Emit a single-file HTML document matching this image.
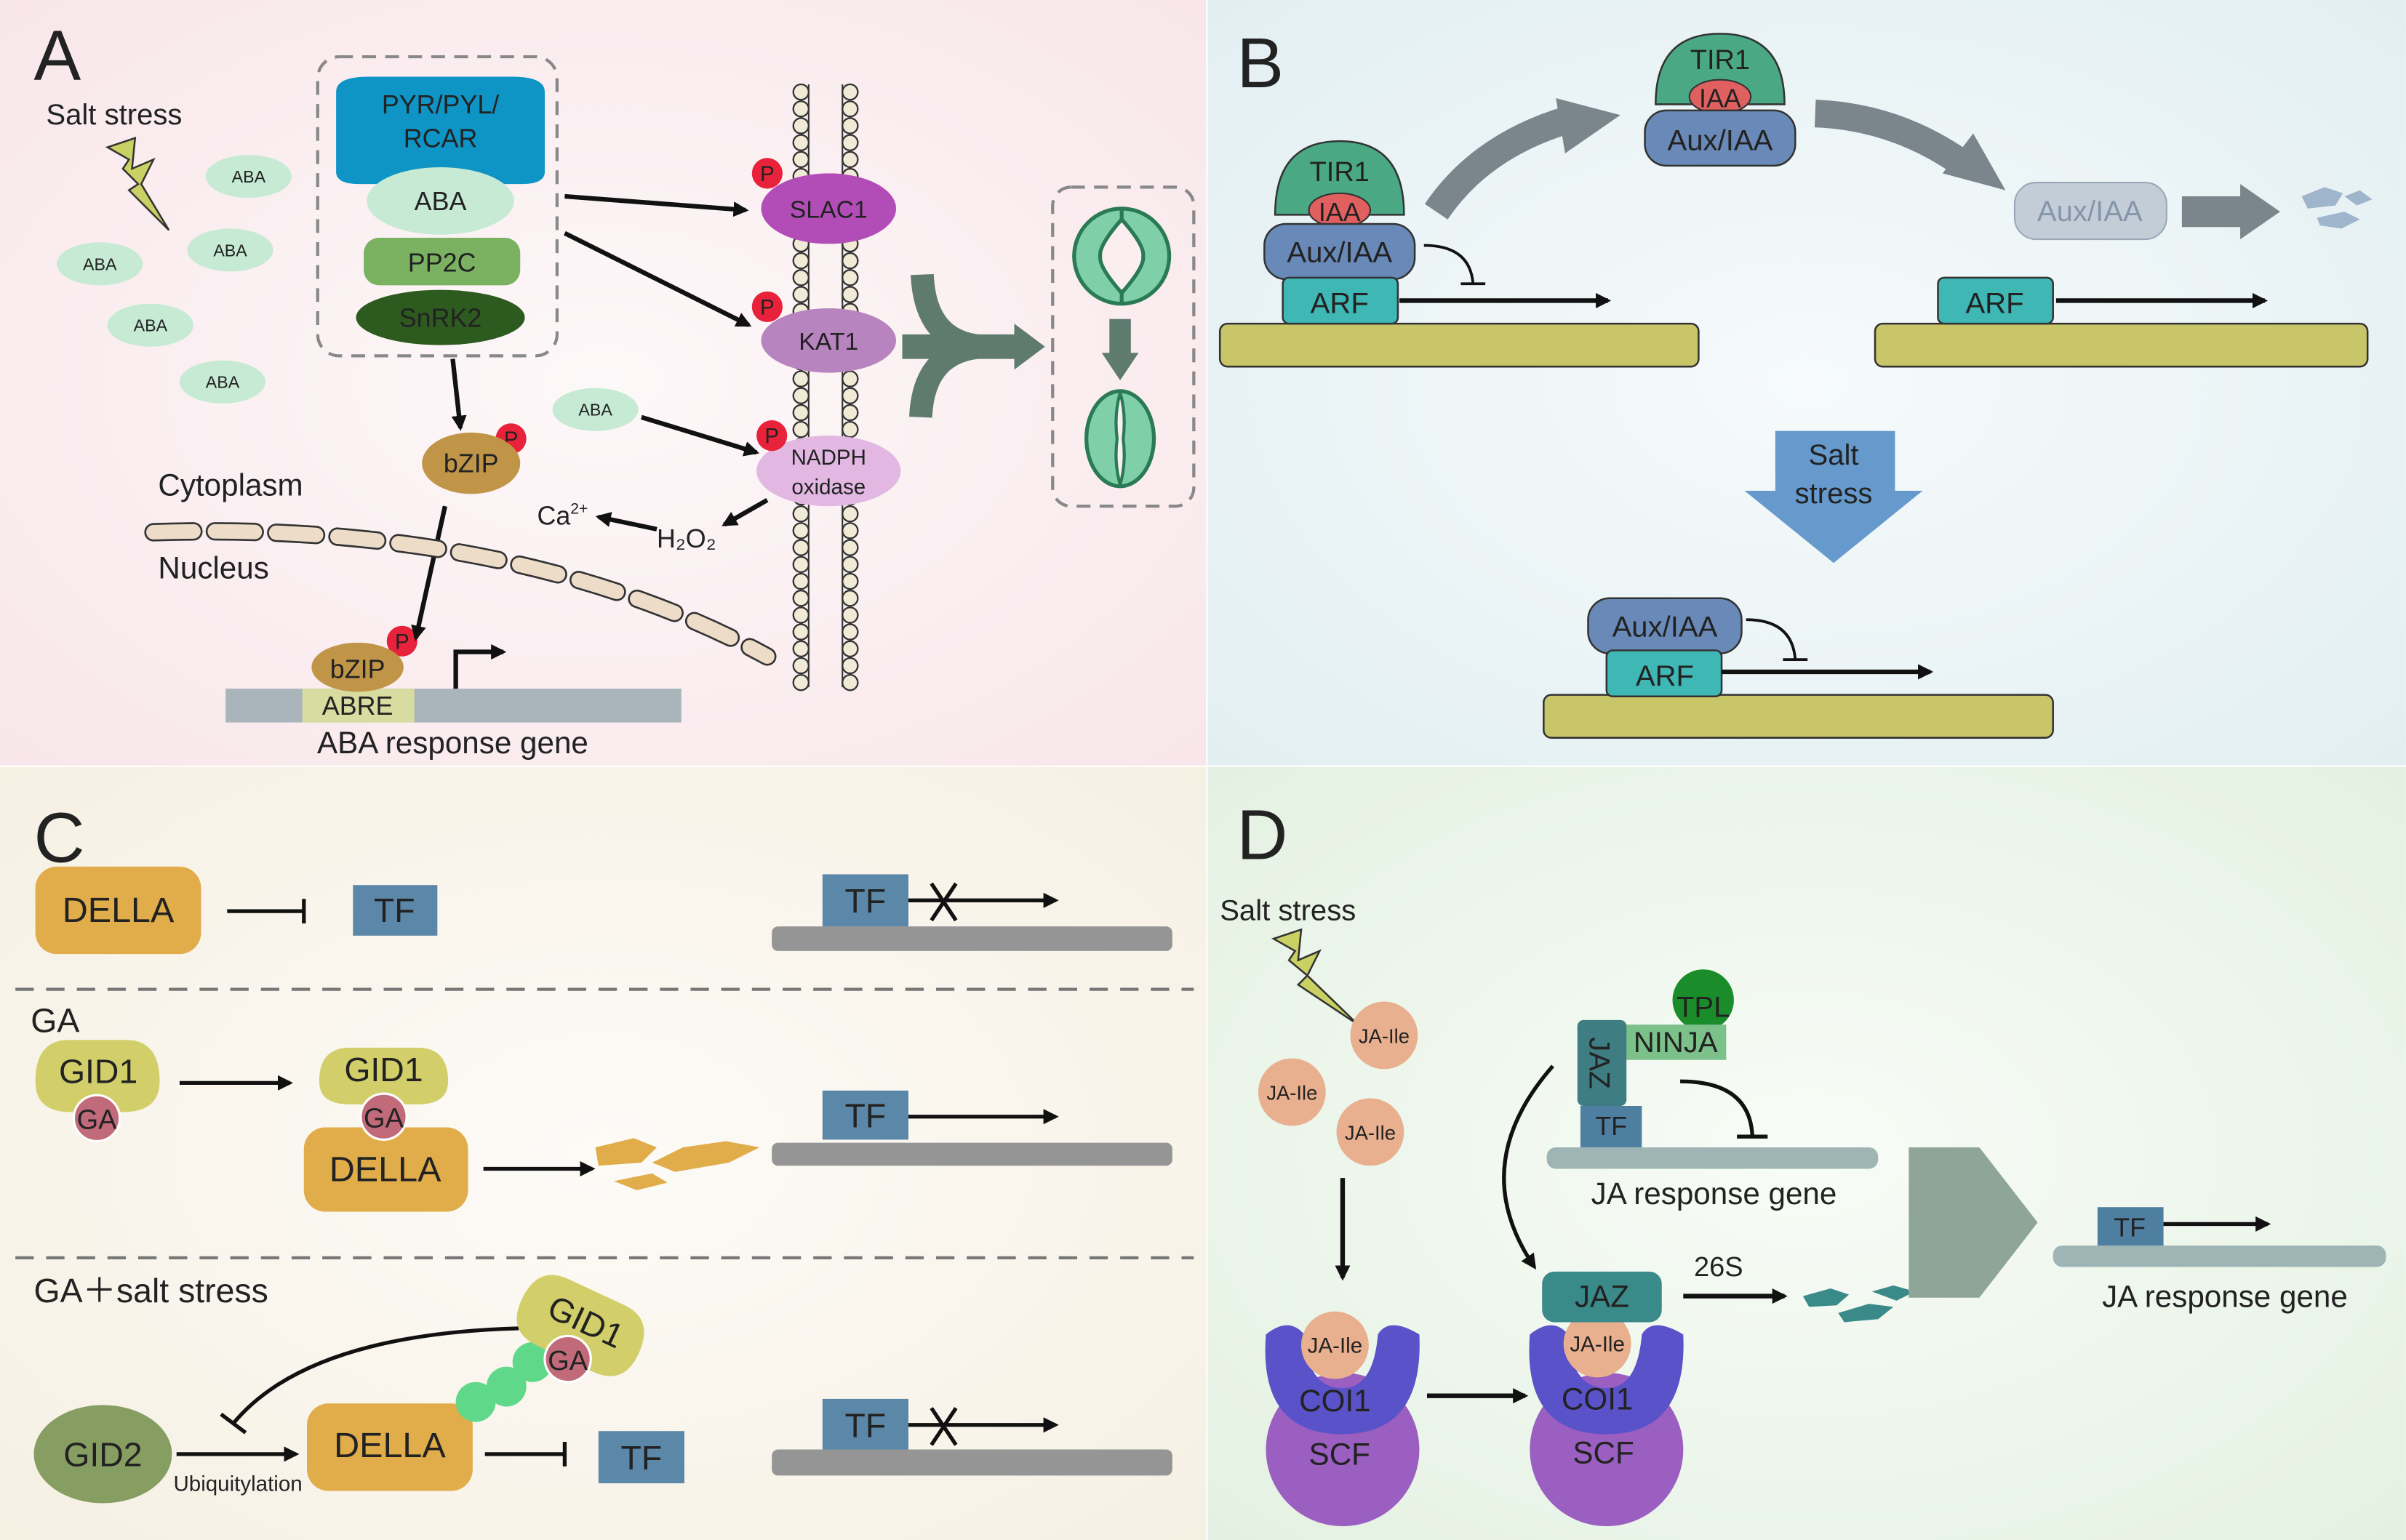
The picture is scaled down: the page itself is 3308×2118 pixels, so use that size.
<!DOCTYPE html>
<html><head><meta charset="utf-8"><style>
html,body{margin:0;padding:0;background:#fff}
svg{display:block}
text{font-family:"Liberation Sans",sans-serif;fill:#222}
</style></head><body>
<svg width="3308" height="2118" viewBox="0 0 1568 1004" xmlns="http://www.w3.org/2000/svg">
<defs>
<marker id="ah" markerWidth="10" markerHeight="10" refX="8" refY="5" orient="auto" markerUnits="userSpaceOnUse"><path d="M0,0 L10,5 L0,10 z" fill="#111"/></marker>
<radialGradient id="ga" cx="0.5" cy="0.5" r="0.7"><stop offset="0" stop-color="#fdf8f9"/><stop offset="1" stop-color="#f8e6ea"/></radialGradient>
<radialGradient id="gb" cx="0.5" cy="0.5" r="0.7"><stop offset="0" stop-color="#f6fafb"/><stop offset="1" stop-color="#e2eff2"/></radialGradient>
<radialGradient id="gc" cx="0.5" cy="0.5" r="0.7"><stop offset="0" stop-color="#fdfbf7"/><stop offset="1" stop-color="#f6f0e3"/></radialGradient>
<radialGradient id="gd" cx="0.5" cy="0.5" r="0.7"><stop offset="0" stop-color="#f8fcf7"/><stop offset="1" stop-color="#e4f1e2"/></radialGradient>
</defs>
<rect x="0" y="0" width="786" height="499" fill="url(#ga)"/>
<rect x="787" y="0" width="781" height="499" fill="url(#gb)"/>
<rect x="0" y="500" width="786" height="504" fill="url(#gc)"/>
<rect x="787" y="500" width="781" height="504" fill="url(#gd)"/>

<!-- PANEL A -->
<text x="22" y="52" font-size="46">A</text>
<text x="30" y="81" font-size="19">Salt stress</text>
<polygon points="70,96 88,90 86,110 100,104 92,120 110,150 84,124 90,120 80,110 84,104" fill="#c9d064" stroke="#333" stroke-width="1.2"/>
<g fill="#c6ead3">
<ellipse cx="162" cy="115" rx="28" ry="14"/><ellipse cx="65" cy="172" rx="28" ry="14"/><ellipse cx="150" cy="163" rx="28" ry="14"/><ellipse cx="98" cy="212" rx="28" ry="14"/><ellipse cx="145" cy="249" rx="28" ry="14"/><ellipse cx="388" cy="267" rx="28" ry="14"/>
</g>
<g font-size="11" text-anchor="middle">
<text x="162" y="119">ABA</text><text x="65" y="176">ABA</text><text x="150" y="167">ABA</text><text x="98" y="216">ABA</text><text x="145" y="253">ABA</text><text x="388" y="271">ABA</text>
</g>
<rect x="207" y="37" width="156" height="195" rx="14" fill="none" stroke="#888" stroke-width="2" stroke-dasharray="9 6"/>
<path d="M219,60 Q219,50 240,50 L334,50 Q355,50 355,60 L355,112 Q355,120 340,120 L234,120 Q219,120 219,112 z" fill="#0e95c6"/>
<text x="287" y="74" font-size="17" text-anchor="middle">PYR/PYL/</text>
<text x="287" y="96" font-size="17" text-anchor="middle">RCAR</text>
<ellipse cx="287" cy="131" rx="48" ry="22" fill="#c6ead3"/>
<text x="287" y="137" font-size="17" text-anchor="middle">ABA</text>
<rect x="237" y="155" width="102" height="31" rx="10" fill="#7bb261"/>
<text x="288" y="177" font-size="17" text-anchor="middle">PP2C</text>
<ellipse cx="287" cy="207" rx="55" ry="18" fill="#2d5a1e"/>
<text x="287" y="213" font-size="17" text-anchor="middle">SnRK2</text>
<!-- membrane -->
<g stroke="#333" stroke-width="1">
<line x1="527" y1="55" x2="527" y2="448"/><line x1="549" y1="55" x2="549" y2="448"/>
</g>
<g fill="#f1ead7" stroke="#333" stroke-width="1.1">
<circle cx="522" cy="60" r="5"/><circle cx="554" cy="60" r="5"/>
<circle cx="522" cy="71" r="5"/><circle cx="554" cy="71" r="5"/><circle cx="522" cy="82" r="5"/><circle cx="554" cy="82" r="5"/><circle cx="522" cy="93" r="5"/><circle cx="554" cy="93" r="5"/><circle cx="522" cy="104" r="5"/><circle cx="554" cy="104" r="5"/><circle cx="522" cy="115" r="5"/><circle cx="554" cy="115" r="5"/><circle cx="522" cy="126" r="5"/><circle cx="554" cy="126" r="5"/><circle cx="522" cy="137" r="5"/><circle cx="554" cy="137" r="5"/><circle cx="522" cy="148" r="5"/><circle cx="554" cy="148" r="5"/><circle cx="522" cy="159" r="5"/><circle cx="554" cy="159" r="5"/><circle cx="522" cy="170" r="5"/><circle cx="554" cy="170" r="5"/><circle cx="522" cy="181" r="5"/><circle cx="554" cy="181" r="5"/><circle cx="522" cy="192" r="5"/><circle cx="554" cy="192" r="5"/><circle cx="522" cy="203" r="5"/><circle cx="554" cy="203" r="5"/><circle cx="522" cy="214" r="5"/><circle cx="554" cy="214" r="5"/><circle cx="522" cy="225" r="5"/><circle cx="554" cy="225" r="5"/><circle cx="522" cy="236" r="5"/><circle cx="554" cy="236" r="5"/><circle cx="522" cy="247" r="5"/><circle cx="554" cy="247" r="5"/><circle cx="522" cy="258" r="5"/><circle cx="554" cy="258" r="5"/><circle cx="522" cy="269" r="5"/><circle cx="554" cy="269" r="5"/><circle cx="522" cy="280" r="5"/><circle cx="554" cy="280" r="5"/><circle cx="522" cy="291" r="5"/><circle cx="554" cy="291" r="5"/><circle cx="522" cy="302" r="5"/><circle cx="554" cy="302" r="5"/><circle cx="522" cy="313" r="5"/><circle cx="554" cy="313" r="5"/><circle cx="522" cy="324" r="5"/><circle cx="554" cy="324" r="5"/><circle cx="522" cy="335" r="5"/><circle cx="554" cy="335" r="5"/><circle cx="522" cy="346" r="5"/><circle cx="554" cy="346" r="5"/><circle cx="522" cy="357" r="5"/><circle cx="554" cy="357" r="5"/><circle cx="522" cy="368" r="5"/><circle cx="554" cy="368" r="5"/><circle cx="522" cy="379" r="5"/><circle cx="554" cy="379" r="5"/><circle cx="522" cy="390" r="5"/><circle cx="554" cy="390" r="5"/><circle cx="522" cy="401" r="5"/><circle cx="554" cy="401" r="5"/><circle cx="522" cy="412" r="5"/><circle cx="554" cy="412" r="5"/><circle cx="522" cy="423" r="5"/><circle cx="554" cy="423" r="5"/><circle cx="522" cy="434" r="5"/><circle cx="554" cy="434" r="5"/><circle cx="522" cy="445" r="5"/><circle cx="554" cy="445" r="5"/>
</g>
<ellipse cx="540" cy="136" rx="44" ry="23" fill="#b24db8"/>
<text x="540" y="142" font-size="16" text-anchor="middle">SLAC1</text>
<ellipse cx="540" cy="222" rx="44" ry="21" fill="#b884bf"/>
<text x="540" y="228" font-size="16" text-anchor="middle">KAT1</text>
<ellipse cx="540" cy="307" rx="47" ry="23" fill="#e2b8e3"/>
<text x="540" y="303" font-size="14" text-anchor="middle">NADPH</text>
<text x="540" y="322" font-size="14" text-anchor="middle">oxidase</text>
<g fill="#e8223a"><circle cx="500" cy="113" r="10"/><circle cx="500" cy="200" r="10"/><circle cx="503" cy="284" r="10"/><circle cx="333" cy="286" r="10"/><circle cx="262" cy="418" r="10"/></g>
<g font-size="14" text-anchor="middle"><text x="500" y="118">P</text><text x="500" y="205">P</text><text x="503" y="289">P</text><text x="333" y="291">P</text><text x="262" y="423">P</text></g>
<ellipse cx="307" cy="302" rx="32" ry="20" fill="#c09548"/>
<text x="307" y="308" font-size="17" text-anchor="middle">bZIP</text>
<g stroke="#111" stroke-width="3" fill="none" marker-end="url(#ah)">
<line x1="368" y1="128" x2="486" y2="137"/>
<line x1="368" y1="152" x2="488" y2="212"/>
<line x1="295" y1="234" x2="300" y2="279"/>
<line x1="418" y1="272" x2="493" y2="295"/>
<line x1="500" y1="326" x2="472" y2="342"/>
<line x1="428" y1="345" x2="390" y2="337"/>
<line x1="290" y1="330" x2="271" y2="416"/>
</g>
<text x="350" y="342" font-size="17">Ca<tspan font-size="10" dy="-7">2+</tspan></text>
<text x="428" y="357" font-size="17">H₂O₂</text>
<text x="103" y="323" font-size="20">Cytoplasm</text>
<text x="103" y="377" font-size="20">Nucleus</text>
<path d="M100,347 C 250,342 390,368 500,428" fill="none" stroke="#333" stroke-width="12" stroke-dasharray="26 14" stroke-linecap="round"/>
<path d="M100,347 C 250,342 390,368 500,428" fill="none" stroke="#ecdcc8" stroke-width="9.5" stroke-dasharray="26 14" stroke-linecap="round"/>
<rect x="147" y="449" width="297" height="22" fill="#a9b5ba"/>
<rect x="197" y="449" width="73" height="22" fill="#d9dca0"/>
<text x="233" y="466" font-size="17" text-anchor="middle">ABRE</text>
<ellipse cx="233" cy="435" rx="30" ry="16" fill="#c09548"/>
<text x="233" y="442" font-size="17" text-anchor="middle">bZIP</text>
<path d="M297,449 V425 H328" fill="none" stroke="#111" stroke-width="3" marker-end="url(#ah)"/>
<text x="295" y="491" font-size="20" text-anchor="middle">ABA response gene</text>
<!-- merging arrow -->
<g fill="none" stroke="#5f7a6e" stroke-width="15">
<path d="M601,179 Q603,226 645,226"/>
<path d="M600,272 Q602,226 645,226"/>
</g>
<rect x="588" y="218" width="75" height="16" fill="#5f7a6e"/>
<polygon points="661,211 681,226 661,241" fill="#5f7a6e"/>
<rect x="686" y="122" width="92" height="208" rx="12" fill="none" stroke="#888" stroke-width="2" stroke-dasharray="9 6"/>
<!-- open stoma -->
<circle cx="731" cy="167" r="31" fill="#7fcfa8" stroke="#2a7a55" stroke-width="2.5"/>
<path d="M731,143 Q746,160 745,167 Q746,174 731,191 Q716,174 717,167 Q716,160 731,143 z" fill="#fbeef1" stroke="#2a7a55" stroke-width="2.5"/>
<line x1="731" y1="136" x2="731" y2="143" stroke="#2a7a55" stroke-width="2.5"/>
<line x1="731" y1="191" x2="731" y2="198" stroke="#2a7a55" stroke-width="2.5"/>
<polygon points="723,208 737,208 737,230 742,230 730,248 718,230 723,230" fill="#5f7a6e"/>
<!-- closed stoma -->
<ellipse cx="730" cy="286" rx="22" ry="31" fill="#7fcfa8" stroke="#2a7a55" stroke-width="2.5"/>
<path d="M730,256 Q726,270 728,286 Q726,302 730,316 M730,256 Q734,270 732,286 Q734,302 730,316" fill="#fbeef1" stroke="#2a7a55" stroke-width="2"/>

<!-- PANEL B -->
<text x="806" y="57" font-size="46">B</text>
<rect x="795" y="211" width="312" height="28" rx="5" fill="#c9c66a" stroke="#333" stroke-width="1.2"/>
<rect x="1222" y="211" width="321" height="28" rx="5" fill="#c9c66a" stroke="#333" stroke-width="1.2"/>
<rect x="1006" y="453" width="332" height="28" rx="5" fill="#c9c66a" stroke="#333" stroke-width="1.2"/>
<path d="M831,140 Q831,92 873,92 Q915,92 915,140 z" fill="#4ba885" stroke="#333" stroke-width="1.2"/>
<text x="873" y="118" font-size="18" text-anchor="middle">TIR1</text>
<ellipse cx="873" cy="137" rx="20" ry="11" fill="#e06060" stroke="#333"/>
<text x="873" y="144" font-size="17" text-anchor="middle">IAA</text>
<rect x="824" y="146" width="98" height="36" rx="14" fill="#6989b8" stroke="#333" stroke-width="1.2"/>
<text x="873" y="171" font-size="19" text-anchor="middle">Aux/IAA</text>
<rect x="836" y="181" width="75" height="30" rx="4" fill="#3fb7b5" stroke="#333" stroke-width="1.2"/>
<text x="873" y="204" font-size="19" text-anchor="middle">ARF</text>
<path d="M928,160 Q958,160 960,185 M952,185 H968" fill="none" stroke="#111" stroke-width="1.8"/>
<line x1="912" y1="196" x2="1048" y2="196" stroke="#111" stroke-width="3" marker-end="url(#ah)"/>
<path d="M1079,68 Q1079,22 1121,22 Q1163,22 1163,68 z" fill="#4ba885" stroke="#333" stroke-width="1.2"/>
<text x="1121" y="45" font-size="18" text-anchor="middle">TIR1</text>
<ellipse cx="1121" cy="63" rx="20" ry="11" fill="#e06060" stroke="#333"/>
<text x="1121" y="70" font-size="17" text-anchor="middle">IAA</text>
<rect x="1072" y="72" width="98" height="36" rx="14" fill="#6989b8" stroke="#333" stroke-width="1.2"/>
<text x="1121" y="98" font-size="19" text-anchor="middle">Aux/IAA</text>
<path d="M936,138 Q965,95 1022,78" fill="none" stroke="#7a868c" stroke-width="18"/>
<polygon points="1014,64 1056,75 1020,100" fill="#7a868c"/>
<path d="M1183,74 Q1235,76 1278,106" fill="none" stroke="#7a868c" stroke-width="18"/>
<polygon points="1286,87 1307,124 1266,113" fill="#7a868c"/>
<rect x="1313" y="119" width="99" height="37" rx="14" fill="#c2cdd8" stroke="#9aa8b6"/>
<text x="1362" y="144" font-size="19" text-anchor="middle" style="fill:#8596aa">Aux/IAA</text>
<polygon points="1422,128 1460,128 1460,120 1486,138 1460,156 1460,148 1422,148" fill="#7a868c"/>
<g fill="#9fb5cc"><path d="M1500,128 l15,-6 l12,4 l-5,8 l-18,2 z"/><path d="M1510,142 l18,-4 l10,5 l-12,6 l-14,-2 z"/><path d="M1528,128 l10,-4 l8,6 l-10,4 z"/></g>
<rect x="1263" y="181" width="75" height="30" rx="4" fill="#3fb7b5" stroke="#333" stroke-width="1.2"/>
<text x="1300" y="204" font-size="19" text-anchor="middle">ARF</text>
<line x1="1340" y1="196" x2="1476" y2="196" stroke="#111" stroke-width="3" marker-end="url(#ah)"/>
<polygon points="1157,281 1235,281 1235,320 1253,320 1195,367 1137,320 1157,320" fill="#6699cc"/>
<text x="1195" y="303" font-size="19" text-anchor="middle">Salt</text>
<text x="1195" y="328" font-size="19" text-anchor="middle">stress</text>
<rect x="1035" y="390" width="100" height="36" rx="14" fill="#6989b8" stroke="#333" stroke-width="1.2"/>
<text x="1085" y="415" font-size="19" text-anchor="middle">Aux/IAA</text>
<rect x="1047" y="424" width="75" height="30" rx="4" fill="#3fb7b5" stroke="#333" stroke-width="1.2"/>
<text x="1085" y="447" font-size="19" text-anchor="middle">ARF</text>
<path d="M1138,404 Q1168,404 1170,430 M1162,430 H1178" fill="none" stroke="#111" stroke-width="1.8"/>
<line x1="1122" y1="438" x2="1258" y2="438" stroke="#111" stroke-width="3" marker-end="url(#ah)"/>

<!-- PANEL C -->
<text x="22" y="562" font-size="46">C</text>
<rect x="23" y="565" width="108" height="57" rx="14" fill="#e0ad4a"/>
<text x="77" y="601" font-size="23" text-anchor="middle">DELLA</text>
<path d="M148,594 H198 M198,586 V602" stroke="#111" stroke-width="2.5" fill="none"/>
<rect x="230" y="577" width="55" height="33" fill="#5b87a8"/>
<text x="257" y="601" font-size="22" text-anchor="middle">TF</text>
<rect x="503" y="604" width="261" height="16" rx="4" fill="#959595"/>
<rect x="536" y="570" width="56" height="34" fill="#5b87a8"/>
<text x="564" y="595" font-size="22" text-anchor="middle">TF</text>
<line x1="592" y1="587" x2="688" y2="587" stroke="#111" stroke-width="2.5" marker-end="url(#ah)"/>
<path d="M607,576 L623,600 M623,576 L607,600" stroke="#111" stroke-width="2.5"/>
<line x1="10" y1="645" x2="778" y2="645" stroke="#777" stroke-width="2" stroke-dasharray="12 8"/>
<line x1="10" y1="820" x2="778" y2="820" stroke="#777" stroke-width="2" stroke-dasharray="12 8"/>
<text x="20" y="673" font-size="22">GA</text>
<path d="M23,705 Q23,678 45,678 L82,678 Q104,678 104,705 Q104,725 80,725 L46,725 Q23,725 23,705 z" fill="#d2cf6a"/>
<text x="64" y="706" font-size="22" text-anchor="middle">GID1</text>
<circle cx="63" cy="729" r="15" fill="#c06a7a" stroke="#fff" stroke-width="1.5"/>
<text x="63" y="736" font-size="18" text-anchor="middle">GA</text>
<line x1="117" y1="706" x2="189" y2="706" stroke="#111" stroke-width="2.5" marker-end="url(#ah)"/>
<rect x="198" y="735" width="107" height="55" rx="14" fill="#e0ad4a"/>
<text x="251" y="770" font-size="23" text-anchor="middle">DELLA</text>
<path d="M208,705 Q208,683 228,683 L272,683 Q292,683 292,705 Q292,720 272,720 L228,720 Q208,720 208,705 z" fill="#d2cf6a"/>
<text x="250" y="705" font-size="22" text-anchor="middle">GID1</text>
<circle cx="250" cy="728" r="15" fill="#c06a7a" stroke="#fff" stroke-width="1.5"/>
<text x="250" y="735" font-size="18" text-anchor="middle">GA</text>
<line x1="315" y1="762" x2="386" y2="762" stroke="#111" stroke-width="2.5" marker-end="url(#ah)"/>
<g fill="#e0ad4a"><path d="M388,748 l25,-6 l15,6 l-10,10 l-28,2 z"/><path d="M425,758 l20,-10 l28,-4 l22,4 l-20,10 l-35,6 z"/><path d="M400,770 l25,-5 l10,6 l-20,5 z"/></g>
<rect x="503" y="745" width="261" height="15" rx="4" fill="#959595"/>
<rect x="536" y="711" width="56" height="32" fill="#5b87a8"/>
<text x="564" y="735" font-size="22" text-anchor="middle">TF</text>
<line x1="592" y1="728" x2="688" y2="728" stroke="#111" stroke-width="2.5" marker-end="url(#ah)"/>
<text x="22" y="849" font-size="22">GA＋salt stress</text>
<ellipse cx="67" cy="948" rx="45" ry="32" fill="#869e62"/>
<text x="67" y="956" font-size="22" text-anchor="middle">GID2</text>
<line x1="115" y1="948" x2="193" y2="948" stroke="#111" stroke-width="2.5" marker-end="url(#ah)"/>
<text x="155" y="972" font-size="14" text-anchor="middle">Ubiquitylation</text>
<path d="M338,866 Q200,870 152,928 M144,922 L160,934" fill="none" stroke="#111" stroke-width="2.5"/>
<rect x="200" y="915" width="108" height="57" rx="14" fill="#e0ad4a"/>
<text x="254" y="950" font-size="23" text-anchor="middle">DELLA</text>
<g fill="#5fd88a"><circle cx="310" cy="914" r="13"/><circle cx="330" cy="904" r="13"/><circle cx="347" cy="888" r="13"/></g>
<g transform="rotate(25 378 865)"><path d="M336,865 Q336,840 358,840 L398,840 Q420,840 420,865 Q420,888 398,888 L358,888 Q336,888 336,865 z" fill="#d2cf6a"/>
<text x="380" y="868" font-size="22" text-anchor="middle">GID1</text></g>
<circle cx="370" cy="886" r="15" fill="#c06a7a" stroke="#fff" stroke-width="1.5"/>
<text x="370" y="893" font-size="18" text-anchor="middle">GA</text>
<path d="M316,948 H368 M368,940 V956" stroke="#111" stroke-width="2.5" fill="none"/>
<rect x="390" y="933" width="56" height="34" fill="#5b87a8"/>
<text x="418" y="958" font-size="22" text-anchor="middle">TF</text>
<rect x="503" y="945" width="261" height="17" rx="4" fill="#959595"/>
<rect x="536" y="912" width="56" height="33" fill="#5b87a8"/>
<text x="564" y="937" font-size="22" text-anchor="middle">TF</text>
<line x1="592" y1="929" x2="688" y2="929" stroke="#111" stroke-width="2.5" marker-end="url(#ah)"/>
<path d="M607,918 L623,942 M623,918 L607,942" stroke="#111" stroke-width="2.5"/>

<!-- PANEL D -->
<text x="806" y="560" font-size="46">D</text>
<text x="795" y="600" font-size="19">Salt stress</text>
<polygon points="830,612 848,606 846,626 860,620 852,636 885,668 846,642 852,636 840,626 844,620" fill="#c9d064" stroke="#333" stroke-width="1.2"/>
<g fill="#e8b08e"><circle cx="902" cy="675" r="22"/><circle cx="842" cy="712" r="22"/><circle cx="893" cy="738" r="22"/></g>
<g font-size="13" text-anchor="middle"><text x="902" y="680">JA-Ile</text><text x="842" y="717">JA-Ile</text><text x="893" y="743">JA-Ile</text></g>
<line x1="875" y1="768" x2="875" y2="833" stroke="#111" stroke-width="3" marker-end="url(#ah)"/>
<circle cx="875" cy="945" r="50" fill="#9a5fc0"/>
<path d="M825,870 Q820,935 875,935 Q928,935 925,870 Q905,858 898,870 Q895,905 875,905 Q852,905 850,870 Q840,858 825,870 z" fill="#5a52c8"/>
<circle cx="870" cy="877" r="22" fill="#e8b08e"/>
<text x="870" y="882" font-size="14" text-anchor="middle">JA-Ile</text>
<text x="870" y="920" font-size="20" text-anchor="middle">COI1</text>
<text x="873" y="955" font-size="20" text-anchor="middle">SCF</text>
<line x1="930" y1="910" x2="994" y2="910" stroke="#111" stroke-width="3" marker-end="url(#ah)"/>
<circle cx="1047" cy="945" r="50" fill="#9a5fc0"/>
<path d="M997,870 Q992,935 1047,935 Q1100,935 1097,870 Q1077,858 1070,870 Q1067,905 1047,905 Q1024,905 1022,870 Q1012,858 997,870 z" fill="#5a52c8"/>
<circle cx="1041" cy="876" r="22" fill="#e8b08e"/>
<text x="1041" y="881" font-size="14" text-anchor="middle">JA-Ile</text>
<text x="1041" y="919" font-size="20" text-anchor="middle">COI1</text>
<text x="1045" y="954" font-size="20" text-anchor="middle">SCF</text>
<rect x="1005" y="829" width="78" height="33" rx="8" fill="#3a8a8a"/>
<text x="1044" y="852" font-size="20" text-anchor="middle">JAZ</text>
<line x1="1097" y1="845" x2="1163" y2="845" stroke="#111" stroke-width="3" marker-end="url(#ah)"/>
<text x="1120" y="832" font-size="18" text-anchor="middle">26S</text>
<g fill="#3a8a8a"><path d="M1175,845 l18,-5 l12,4 l-8,7 l-18,1 z"/><path d="M1198,856 l20,-6 l16,2 l-10,8 l-22,2 z"/><path d="M1220,842 l14,-4 l14,4 l-12,6 z"/></g>
<path d="M1012,695 Q955,760 1000,826" fill="none" stroke="#111" stroke-width="2.5" marker-end="url(#ah)"/>
<rect x="1008" y="748" width="216" height="14" rx="6" fill="#9fb5b5"/>
<circle cx="1110" cy="652" r="20" fill="#1a8c2a"/>
<text x="1110" y="663" font-size="19" text-anchor="middle">TPL</text>
<rect x="1058" y="668" width="67" height="23" fill="#7cc08a"/>
<text x="1092" y="686" font-size="19" text-anchor="middle">NINJA</text>
<rect x="1028" y="665" width="32" height="56" rx="4" fill="#3e7d82"/>
<text transform="translate(1036,693) rotate(90)" font-size="19" text-anchor="middle">JAZ</text>
<rect x="1030" y="721" width="40" height="27" fill="#4f7fa0"/>
<text x="1050" y="740" font-size="17" text-anchor="middle">TF</text>
<path d="M1095,705 Q1140,705 1142,740 M1132,741 H1152" fill="none" stroke="#111" stroke-width="2.5"/>
<text x="1117" y="785" font-size="20" text-anchor="middle">JA response gene</text>
<polygon points="1244,748 1290,748 1328,797 1290,846 1244,846" fill="#8fa598"/>
<rect x="1338" y="812" width="217" height="14" rx="6" fill="#9fb5b5"/>
<rect x="1367" y="787" width="43" height="25" fill="#4f7fa0"/>
<text x="1388" y="806" font-size="17" text-anchor="middle">TF</text>
<line x1="1410" y1="798" x2="1478" y2="798" stroke="#111" stroke-width="2.5" marker-end="url(#ah)"/>
<text x="1450" y="852" font-size="20" text-anchor="middle">JA response gene</text>
</svg>
</body></html>
